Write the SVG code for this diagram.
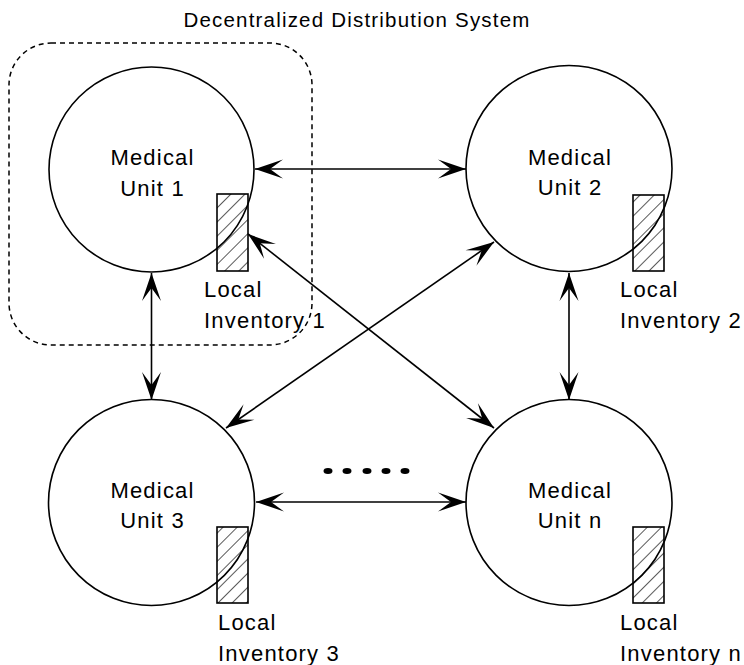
<svg xmlns="http://www.w3.org/2000/svg" width="744" height="665" viewBox="0 0 744 665">
<style>
.c{fill:#fff;stroke:#000;stroke-width:1.6}
.inv{fill:url(#hatch);stroke:#000;stroke-width:1.6}
.t{font-family:"Liberation Sans",Arial,sans-serif;font-size:22px;letter-spacing:1.2px;fill:#000}
.m{text-anchor:middle}
.e{fill:none;stroke:#000;stroke-width:1.6;marker-start:url(#ah);marker-end:url(#ah)}
</style>
<defs>
<pattern id="hatch" patternUnits="userSpaceOnUse" width="10" height="10" patternTransform="rotate(45)">
<line x1="0" y1="0" x2="0" y2="10" stroke="#000" stroke-width="1.3"/>
</pattern>
<marker id="ah" markerUnits="userSpaceOnUse" markerWidth="30" markerHeight="20" refX="28" refY="9.5" orient="auto-start-reverse" overflow="visible">
<path d="M28,9.5 L0,0 L13,9.5 L0,19 Z" fill="#000"/>
</marker>
</defs>
<rect x="0" y="0" width="744" height="665" fill="#fff"/>
<text x="357" y="27" font-family="Liberation Sans,Arial,sans-serif" font-size="20.5" letter-spacing="1.2" text-anchor="middle">Decentralized Distribution System</text>
<rect id="boundary" x="9" y="43" width="303" height="302" rx="42" fill="none" stroke="#000" stroke-width="1.5" stroke-dasharray="5,4"/>
<g id="connectors">
<line class="e" x1="255" y1="169" x2="466" y2="169"/>
<line class="e" x1="151.5" y1="273" x2="151.5" y2="400"/>
<line class="e" x1="569" y1="273" x2="569" y2="400"/>
<line class="e" x1="256" y1="502" x2="466" y2="502"/>
<line class="e" x1="248" y1="234" x2="494" y2="428"/>
<line class="e" x1="494" y1="242" x2="226" y2="428"/>
</g>
<g id="unit1">
<circle class="c" cx="151.5" cy="169.5" r="102.5"/>
<rect class="inv" x="217" y="194" width="31" height="77"/>
<text class="t m" x="152.5" y="165">Medical</text>
<text class="t m" x="152.5" y="196">Unit 1</text>
<text class="t" x="204" y="297">Local</text>
<text class="t" x="204" y="328">Inventory 1</text>
</g>
<g id="unit2">
<circle class="c" cx="569" cy="168.5" r="103"/>
<rect class="inv" x="633" y="195" width="31" height="76"/>
<text class="t m" x="570" y="165">Medical</text>
<text class="t m" x="570" y="195">Unit 2</text>
<text class="t" x="620" y="297">Local</text>
<text class="t" x="620" y="328">Inventory 2</text>
</g>
<g id="unit3">
<circle class="c" cx="151.5" cy="502.5" r="103"/>
<rect class="inv" x="217" y="527" width="31" height="76"/>
<text class="t m" x="152.5" y="498">Medical</text>
<text class="t m" x="152.5" y="528">Unit 3</text>
<text class="t" x="218" y="630">Local</text>
<text class="t" x="218" y="661">Inventory 3</text>
</g>
<g id="unitn">
<circle class="c" cx="569" cy="502.5" r="103"/>
<rect class="inv" x="633" y="527" width="31" height="76"/>
<text class="t m" x="570" y="498">Medical</text>
<text class="t m" x="570" y="528">Unit n</text>
<text class="t" x="620" y="630">Local</text>
<text class="t" x="620" y="661">Inventory n</text>
</g>
<g id="ellipsis">
<ellipse cx="328" cy="471" rx="4.5" ry="3"/>
<ellipse cx="347" cy="471" rx="4.5" ry="3"/>
<ellipse cx="367" cy="471" rx="4.5" ry="3"/>
<ellipse cx="386" cy="471" rx="4.5" ry="3"/>
<ellipse cx="405" cy="471" rx="4.5" ry="3"/>
</g>
</svg>
